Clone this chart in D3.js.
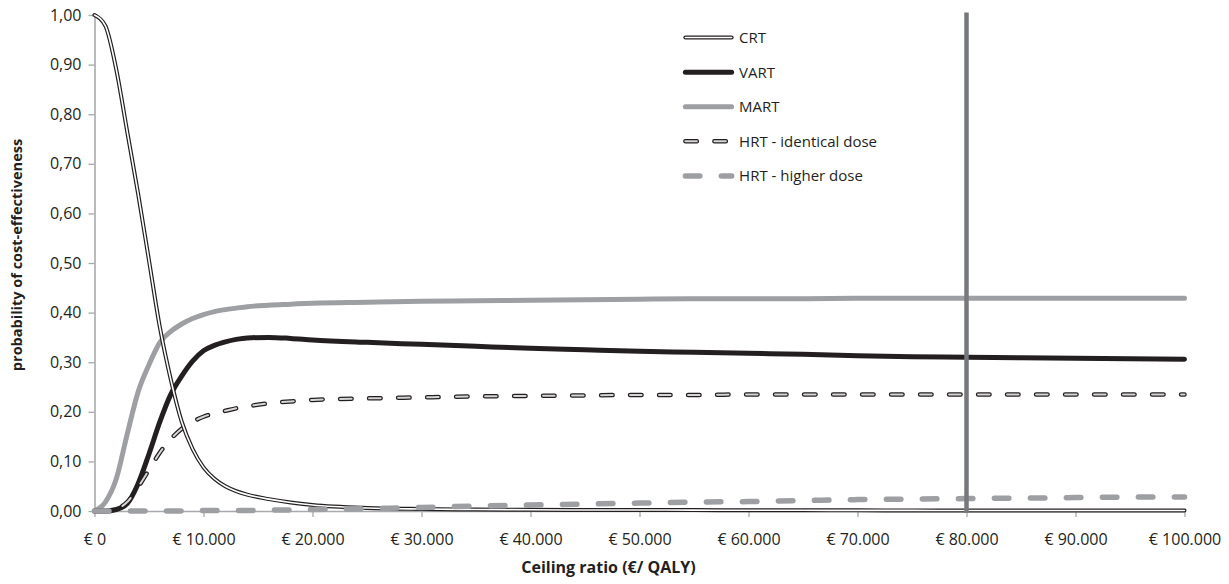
<!DOCTYPE html>
<html>
<head>
<meta charset="utf-8">
<script src="https://cdn.jsdelivr.net/npm/d3@7"></script>
<style>
  body { margin: 0; background: #fff; }
  text { font-family: "Open Sans", sans-serif; fill: #231f20; }
</style>
</head>
<body>
<svg id="chart"></svg>
<script>
// ceiling ratio in euro per QALY
const ceiling = [0, 1000, 2000, 3000, 4000, 5000, 6000, 7000, 8000, 9000, 10000, 11000, 12000, 13000, 14000,
  16000, 18000, 20000, 25000, 30000, 35000, 40000, 45000, 50000, 55000, 60000, 65000, 70000, 75000,
  80000, 85000, 90000, 95000, 100000];

// probability of cost-effectiveness per strategy
const crt = [1.000, 0.978, 0.890, 0.765, 0.640, 0.505, 0.370, 0.265, 0.180, 0.125, 0.088, 0.065, 0.050, 0.040, 0.033,
  0.024, 0.017, 0.012, 0.006, 0.004, 0.003, 0.0025, 0.002, 0.002, 0.0018, 0.0015, 0.0014, 0.0013, 0.0012,
  0.0011, 0.001, 0.001, 0.001, 0.001];
const vart = [0.000, 0.000, 0.003, 0.015, 0.055, 0.115, 0.180, 0.235, 0.272, 0.302, 0.323, 0.334, 0.341, 0.346, 0.349,
  0.350, 0.348, 0.345, 0.340, 0.336, 0.332, 0.328, 0.325, 0.322, 0.320, 0.318, 0.316, 0.313, 0.311,
  0.310, 0.309, 0.308, 0.307, 0.306];
const mart = [0.000, 0.018, 0.065, 0.155, 0.240, 0.295, 0.340, 0.362, 0.377, 0.388, 0.396, 0.402, 0.406, 0.409, 0.412,
  0.415, 0.417, 0.419, 0.421, 0.423, 0.424, 0.425, 0.426, 0.427, 0.428, 0.428, 0.428, 0.429, 0.429,
  0.429, 0.429, 0.429, 0.429, 0.429];
const hrtIdentical = [0.000, 0.000, 0.004, 0.018, 0.048, 0.083, 0.118, 0.145, 0.166, 0.180, 0.190, 0.197, 0.202, 0.207, 0.211,
  0.217, 0.221, 0.224, 0.227, 0.229, 0.231, 0.232, 0.233, 0.234, 0.234, 0.235, 0.235, 0.235, 0.235,
  0.235, 0.235, 0.235, 0.235, 0.235];
const hrtHigher = [0.000, 0.000, 0.000, 0.000, 0.000, 0.000, 0.000, 0.000, 0.000, 0.000, 0.001, 0.001, 0.001, 0.001, 0.001,
  0.002, 0.002, 0.003, 0.005, 0.007, 0.010, 0.012, 0.014, 0.016, 0.018, 0.019, 0.021, 0.023, 0.024,
  0.025, 0.026, 0.027, 0.028, 0.028];

const xTicks = [0, 10000, 20000, 30000, 40000, 50000, 60000, 70000, 80000, 90000, 100000];
const yTicks = [0, 0.1, 0.2, 0.3, 0.4, 0.5, 0.6, 0.7, 0.8, 0.9, 1.0];
const threshold = 80000;

const seriesNames = ["CRT", "VART", "MART", "HRT - identical dose", "HRT - higher dose"];

var margin = { top: 15, right: 44.5, bottom: 73, left: 94.5 },
    width = 1229 - margin.left - margin.right,
    height = 584 - margin.top - margin.bottom;

var svg = d3.select("#chart")
    .attr("width", 1229)
    .attr("height", 584)
  .append("g")
    .attr("transform", "translate(" + margin.left + "," + margin.top + ")");

var x = d3.scaleLinear().domain([0, 100000]).range([0, width]);
var y = d3.scaleLinear().domain([0, 1]).range([height, 0]);

// dutch style number formats
var nl = d3.formatLocale({ decimal: ",", thousands: ".", grouping: [3], currency: ["€ ", ""] });
var fmtY = nl.format(".2f");
var fmtX = nl.format("$,.0f");

// axes
var xAxis = svg.append("g")
    .attr("transform", "translate(0," + height + ")")
    .call(d3.axisBottom(x).tickValues(xTicks).tickFormat(fmtX).tickSize(6).tickSizeOuter(0));
var yAxis = svg.append("g")
    .call(d3.axisLeft(y).tickValues(yTicks).tickFormat(fmtY).tickSize(6).tickSizeOuter(0));

[xAxis, yAxis].forEach(function(a) {
    a.select(".domain").attr("stroke", "#a7a9ac").attr("stroke-width", 1.6);
    a.selectAll(".tick line").attr("stroke", "#a7a9ac").attr("stroke-width", 1.3);
    a.selectAll("text").style("font-family", "'Open Sans', sans-serif")
        .style("font-size", "16px").attr("fill", "#231f20");
});
xAxis.selectAll("text").attr("dy", "1.55em");
yAxis.selectAll("text").attr("x", -13);

// axis titles
svg.append("text")
    .attr("x", width / 2 - 31)
    .attr("y", height + 62)
    .attr("text-anchor", "middle")
    .style("font-size", "16px")
    .style("font-weight", "bold")
    .text("Ceiling ratio (€/ QALY)");

svg.append("text")
    .attr("transform", "translate(" + (-73) + "," + (height / 2 - 8) + ") rotate(-90)")
    .attr("text-anchor", "middle")
    .style("font-size", "14.5px")
    .style("font-weight", "bold")
    .text("probability of cost-effectiveness");

var pts = function(vals) { return ceiling.map(function(c, i) { return [c, vals[i]]; }); };
var line = d3.line()
    .x(function(d) { return x(d[0]); })
    .y(function(d) { return y(d[1]); })
    .curve(d3.curveMonotoneX);

// line styles, each a list of stroke layers
var styles = {
    "CRT": [{ stroke: "#231f20", w: 4 }, { stroke: "#ffffff", w: 1.6 }],
    "VART": [{ stroke: "#231f20", w: 5 }],
    "MART": [{ stroke: "#9d9fa2", w: 5 }],
    "HRT - identical dose": [{ stroke: "#231f20", w: 4.5, dash: "11.5,17.5", cap: "round" },
                             { stroke: "#d6d6d6", w: 2, dash: "11.5,17.5", cap: "round" }],
    "HRT - higher dose": [{ stroke: "#9d9fa2", w: 5.5, dash: "14.5,21.5", cap: "round" }]
};
var seriesData = {
    "CRT": crt, "VART": vart, "MART": mart,
    "HRT - identical dose": hrtIdentical, "HRT - higher dose": hrtHigher
};

function drawStyled(g, name, pathData) {
    styles[name].forEach(function(s) {
        g.append("path")
            .attr("d", pathData)
            .attr("fill", "none")
            .attr("stroke", s.stroke)
            .attr("stroke-width", s.w)
            .attr("stroke-dasharray", s.dash || null)
            .attr("stroke-linecap", s.cap || "round")
            .attr("stroke-linejoin", "round");
    });
}

// draw order: MART, VART, HRT identical, CRT, HRT higher
["MART", "VART", "HRT - identical dose", "CRT", "HRT - higher dose"].forEach(function(name) {
    drawStyled(svg.append("g"), name, line(pts(seriesData[name])));
});

// threshold line at 80.000
svg.append("line")
    .attr("x1", x(threshold)).attr("x2", x(threshold))
    .attr("y1", y(1.005)).attr("y2", y(-0.004))
    .attr("stroke", "#77787b")
    .attr("stroke-width", 4.5);

// legend
var legend = svg.append("g").attr("transform", "translate(" + (x(54000)) + "," + (y(0.9545)) + ")");
seriesNames.forEach(function(name, i) {
    var row = legend.append("g").attr("transform", "translate(0," + (i * 34.6) + ")");
    drawStyled(row, name, "M2.25,0L48.5,0");
    row.append("text")
        .attr("x", 56)
        .attr("y", 0)
        .attr("dy", "0.36em")
        .style("font-size", "15px")
        .text(name);
});
</script>
</body>
</html>
